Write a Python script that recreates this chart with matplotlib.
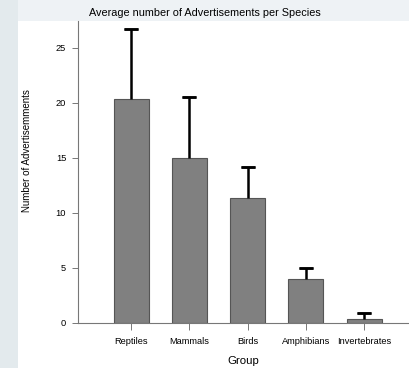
import matplotlib
matplotlib.use("Agg")
import matplotlib.pyplot as plt
from matplotlib.patches import Rectangle

plt.rcParams['font.family'] = ['Liberation Sans', 'DejaVu Sans']

groups = ["Reptiles", "Mammals", "Birds", "Amphibians", "Invertebrates"]
means = [20.35, 15.0, 11.35, 4.0, 0.33]
upper_err = [6.35, 5.55, 2.85, 1.03, 0.6]
yticks = [0, 5, 10, 15, 20, 25]

W, H = 409, 368
fig = plt.figure(figsize=(W / 100, H / 100), dpi=100)

# page background strips
fig.patches.append(Rectangle((0, 0), 1, 1, transform=fig.transFigure,
                             facecolor="#eef2f5", edgecolor="none", zorder=-3))
fig.patches.append(Rectangle((0, 0), 18 / W, 1, transform=fig.transFigure,
                             facecolor="#e3eaed", edgecolor="none", zorder=-2))
fig.patches.append(Rectangle((18 / W, 0), 1 - 18 / W, (H - 21) / H,
                             transform=fig.transFigure,
                             facecolor="white", edgecolor="none", zorder=-1))

ax = fig.add_axes([78 / W, (H - 323) / H, (W - 78) / W, (323 - 21) / H])
ax.set_facecolor("none")

x = list(range(len(groups)))
ax.bar(x, means, width=0.6, color="#808080", edgecolor="#555555", linewidth=0.8,
       zorder=2)

# one-sided (upper) error bars with a cap only at the top
tops = [m + e for m, e in zip(means, upper_err)]
ax.vlines(x, means, tops, color="black", linewidth=1.8, zorder=3)
ax.errorbar(x, tops, yerr=0, fmt="none", ecolor="black", elinewidth=0,
            capsize=5, capthick=1.8, zorder=3)

ax.set_xlim(-0.91, 4.77)
ax.set_ylim(0, 27.45)
ax.set_yticks(yticks)
ax.set_xticks(x)
ax.set_xticklabels(groups, fontsize=6.7)
ax.tick_params(axis="y", labelsize=6.7, length=4.5, width=0.7, color="#777777",
               pad=4)
ax.tick_params(axis="x", length=5, width=0.7, color="#777777", pad=5)

for side in ["top", "right"]:
    ax.spines[side].set_visible(False)
for side in ["left", "bottom"]:
    ax.spines[side].set_color("#777777")
    ax.spines[side].set_linewidth(0.8)

ax.set_ylabel("Number of Advertisemments", fontsize=7, va="center")
ax.yaxis.set_label_coords(-51 / (W - 78), (323 - 151) / (323 - 21))
ax.set_xlabel("Group", fontsize=8.2, va="center")
ax.xaxis.set_label_coords(0.5, -(360.5 - 323) / (323 - 21))

fig.text(205 / W, 1 - 13 / H, "Average number of Advertisements per Species",
         ha="center", va="center", fontsize=7.8)

fig.savefig("out.png", dpi=100)
